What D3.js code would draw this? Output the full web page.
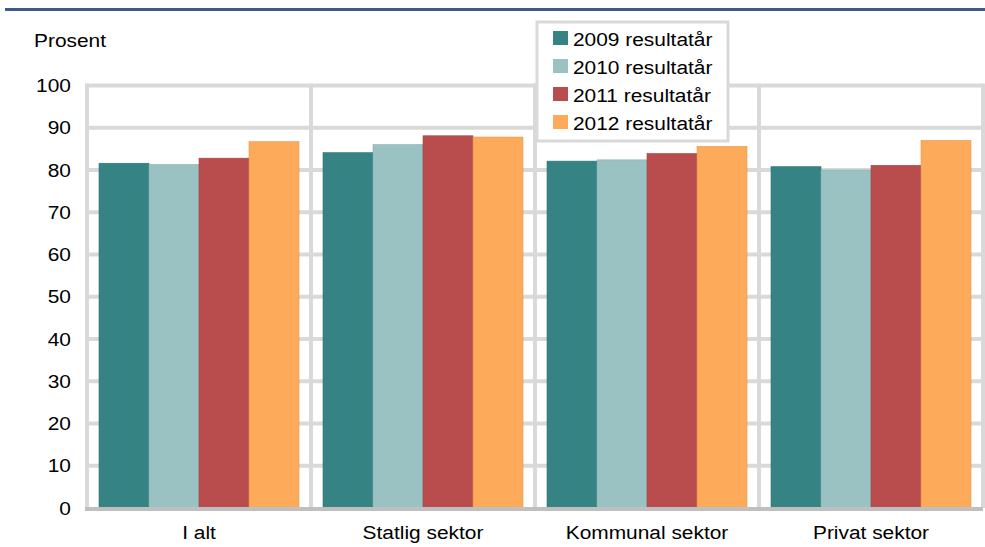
<!DOCTYPE html>
<html>
<head>
<meta charset="utf-8">
<script src="https://cdn.jsdelivr.net/npm/d3@7"></script>
<style>
  body { margin: 0; background: #fff; }
  svg { display: block; font-family: "Liberation Sans", Arial, sans-serif; }
</style>
</head>
<body>
<div id="chart"></div>
<script>
// Data
const categories = ['I alt', 'Statlig sektor', 'Kommunal sektor', 'Privat sektor'];
const seriesNames = ['2009 resultatår', '2010 resultatår', '2011 resultatår', '2012 resultatår'];
const values2009 = [81.6, 84.1, 82.1, 80.8];
const values2010 = [81.3, 86.0, 82.4, 80.0];
const values2011 = [82.8, 88.1, 83.9, 81.1];
const values2012 = [86.7, 87.8, 85.6, 87.0];
const yTicks = [0, 10, 20, 30, 40, 50, 60, 70, 80, 90, 100];
const colors = ['#358383', '#9bc2c3', '#b94c4d', '#fdaa5a'];

const series = [values2009, values2010, values2011, values2012];

const width = 985, height = 547;
const plot = { left: 87, right: 983, top: 85.5, bottom: 508 };
const fontSize = 19;
const stretch = 1.1;   // reference text is a bit wider than plain Arial

const svg = d3.select('#chart').append('svg')
    .attr('width', width)
    .attr('height', height);

// Top rule
svg.append('rect')
    .attr('x', 5).attr('y', 8)
    .attr('width', 980).attr('height', 3)
    .attr('fill', '#3f5a8a');

const y = d3.scaleLinear().domain([0, 100]).range([plot.bottom, plot.top]);
const x0 = d3.scaleBand().domain(categories).range([plot.left, plot.right]).padding(0);
const x1 = d3.scaleBand().domain(d3.range(seriesNames.length)).range([12, 212]).padding(0);

// Horizontal grid
svg.append('g')
    .selectAll('line')
    .data(yTicks.filter(d => d > 0))
    .join('line')
    .attr('x1', plot.left).attr('x2', plot.right)
    .attr('y1', d => y(d)).attr('y2', d => y(d))
    .attr('stroke', '#d9d9d9').attr('stroke-width', 4);

// Vertical grid at category boundaries
const bounds = categories.map(c => x0(c)).concat([plot.right]);
svg.append('g')
    .selectAll('line')
    .data(bounds)
    .join('line')
    .attr('x1', d => d).attr('x2', d => d)
    .attr('y1', y(100) - 2).attr('y2', plot.bottom)
    .attr('stroke', '#d9d9d9').attr('stroke-width', 4);

// Bars
const groups = svg.append('g')
    .selectAll('g')
    .data(categories)
    .join('g')
    .attr('transform', d => `translate(${x0(d)},0)`);

groups.selectAll('rect')
    .data((c, i) => series.map((s, k) => ({ k, v: s[i] })))
    .join('rect')
    .attr('x', d => x1(d.k))
    .attr('width', x1.bandwidth())
    .attr('y', d => y(d.v))
    .attr('height', d => y(0) - y(d.v))
    .attr('fill', d => colors[d.k])
    .attr('stroke', d => d3.color(colors[d.k]).darker(0.3))
    .attr('stroke-width', 0.6);

// X axis baseline
svg.append('line')
    .attr('x1', plot.left - 2).attr('x2', plot.right)
    .attr('y1', plot.bottom + 1).attr('y2', plot.bottom + 1)
    .attr('stroke', '#bfbfbf').attr('stroke-width', 4);

// Y axis labels
const yAxis = d3.axisLeft(y).tickValues(yTicks).tickSize(0).tickPadding(0);
svg.append('g')
    .attr('transform', `translate(${plot.left - 16},0)`)
    .call(yAxis)
    .call(g => g.select('.domain').remove())
    .selectAll('text')
    .attr('x', 0)
    .attr('transform', `scale(${stretch},1)`)
    .attr('font-size', fontSize)
    .attr('fill', '#000')
    .attr('font-family', '"Liberation Sans", Arial, sans-serif');

// X axis labels
const xAxis = d3.axisBottom(x0).tickSize(0).tickPadding(18);
svg.append('g')
    .attr('transform', `translate(0,${plot.bottom})`)
    .call(xAxis)
    .call(g => g.select('.domain').remove())
    .selectAll('text')
    .attr('transform', `scale(${stretch},1)`)
    .attr('font-size', fontSize)
    .attr('fill', '#000')
    .attr('font-family', '"Liberation Sans", Arial, sans-serif');

// Unit label
svg.append('text')
    .attr('transform', `translate(34,47) scale(${stretch},1)`)
    .attr('font-size', fontSize)
    .text('Prosent');

// Legend
const legend = svg.append('g').attr('transform', 'translate(537,22)');
legend.append('rect')
    .attr('width', 191).attr('height', 119)
    .attr('fill', '#fff')
    .attr('stroke', '#d9d9d9').attr('stroke-width', 3);

const items = legend.selectAll('g.item')
    .data(seriesNames)
    .join('g')
    .attr('class', 'item')
    .attr('transform', (d, i) => `translate(16,${9 + i * 28})`);

items.append('rect')
    .attr('width', 15).attr('height', 14)
    .attr('fill', (d, i) => colors[i]);

items.append('text')
    .attr('transform', `translate(20,15) scale(${stretch},1)`)
    .attr('font-size', fontSize)
    .text(d => d);
</script>
</body>
</html>
